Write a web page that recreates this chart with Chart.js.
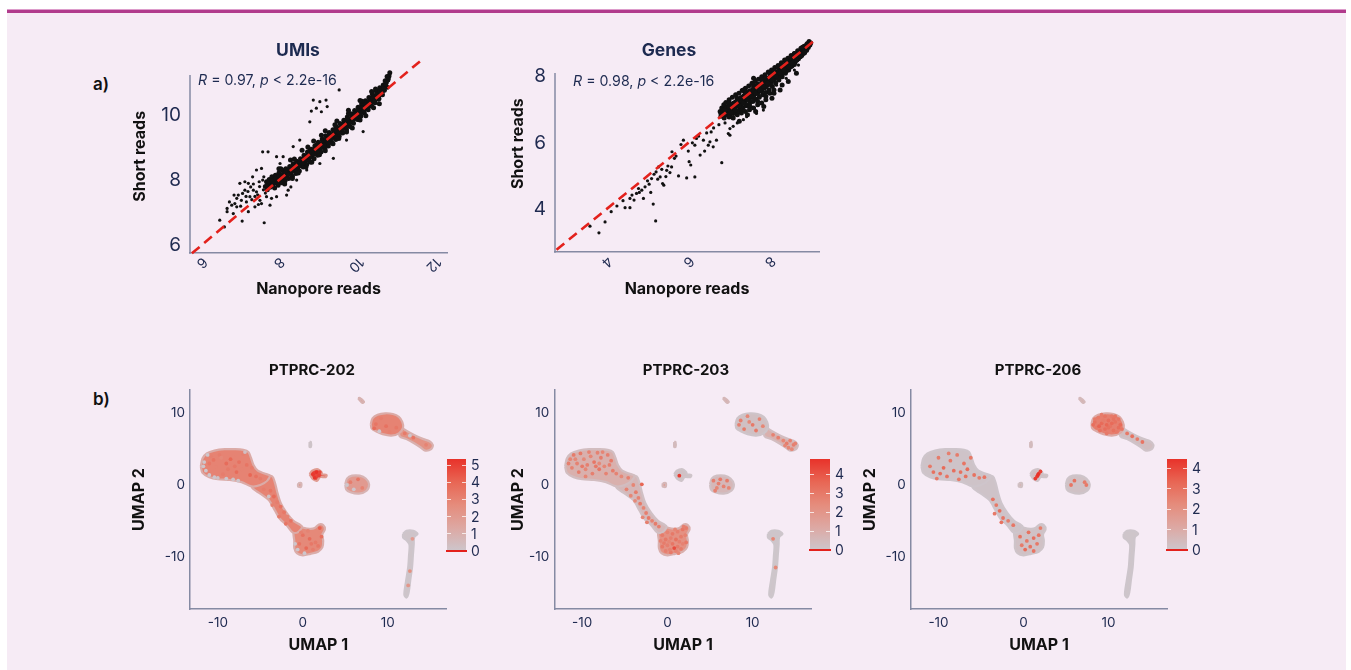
<!DOCTYPE html>
<html><head><meta charset="utf-8">
<script src="https://cdn.jsdelivr.net/npm/chart.js@4.4.0/dist/chart.umd.min.js"></script>
<style>
html,body{margin:0;padding:0;background:#fff;width:1351px;height:670px;overflow:hidden;font-family:Inter,"DejaVu Sans",sans-serif;}
#frame{position:absolute;left:7px;top:9px;width:1339px;height:661px;background:#f6ebf5;}
#topline{position:absolute;left:7px;top:9px;width:1339px;height:3px;background:#b13b8c;border-top:1px solid #dd9ccb;}
canvas{position:absolute;}
.t{position:absolute;white-space:nowrap;transform:translate(-50%,-50%);line-height:1;}
.l{position:absolute;white-space:nowrap;transform:translateY(-50%);line-height:1;}
.cb{position:absolute;}
.tick{position:absolute;height:1px;background:rgba(255,255,255,0.75);width:4px;}
</style></head>
<body>
<div id="frame"></div><div id="topline"></div>
<canvas id="a1" width="350" height="280" style="left:110px;top:30px"></canvas>
<canvas id="a2" width="350" height="296" style="left:480px;top:14px"></canvas>
<canvas id="b1" width="345" height="290" style="left:110px;top:375px"></canvas>
<canvas id="b2" width="345" height="290" style="left:475px;top:375px"></canvas>
<canvas id="b3" width="345" height="290" style="left:830px;top:375px"></canvas>
<div class="t" style="left:298px;top:50px;font-size:17.5px;font-weight:700;color:#1d2a50">UMIs</div>
<div class="t" style="left:669px;top:50px;font-size:17.5px;font-weight:700;color:#1d2a50">Genes</div>
<div class="l" style="left:93px;top:84px;font-size:17px;font-weight:600;color:#111">a)</div>
<div class="l" style="left:93px;top:399px;font-size:17px;font-weight:600;color:#111">b)</div>
<div class="l" style="left:198px;top:80px;font-size:14.2px;color:#1d2a50"><i>R</i> = 0.97, <i>p</i> &lt; 2.2e-16</div>
<div class="l" style="left:573px;top:81px;font-size:14.2px;color:#1d2a50"><i>R</i> = 0.98, <i>p</i> &lt; 2.2e-16</div>
<div class="t" style="left:312px;top:369px;font-size:15px;font-weight:700;color:#111">PTPRC-202</div>
<div class="t" style="left:686px;top:369px;font-size:15px;font-weight:700;color:#111">PTPRC-203</div>
<div class="t" style="left:1038px;top:369px;font-size:15px;font-weight:700;color:#111">PTPRC-206</div>
<script>
// ================= DATA =================
// Panel a) UMIs: log counts, Nanopore (x) vs short reads (y)
const umiXTicks = [6, 8, 10, 12];
const umiYTicks = [6, 8, 10];
const umiYAxisTop = 11.23;
const umiIdentity = [5.75, 11.7];
const umiBand = [
[7.65,7.80],[7.68,7.95],[7.70,7.70],[7.72,7.88],[7.75,8.02],[7.77,7.78],[7.80,7.92],[7.82,8.10],[7.84,7.85],[7.87,8.00],[7.89,7.76],[7.91,8.15],[7.93,7.95],[7.96,8.05],[7.98,7.84],[8.00,8.22],[8.02,8.00],[8.05,8.12],[8.07,7.92],[8.09,8.30],[8.11,8.08],[8.14,8.20],[8.16,7.98],[8.18,8.35],[8.21,8.15],[8.23,8.27],[8.25,8.05],[8.28,8.42],[8.30,8.22],[8.32,8.36],[8.35,8.12],[8.37,8.50],[8.39,8.30],[8.42,8.44],[8.44,8.20],[8.46,8.58],[8.49,8.38],[8.51,8.52],[8.53,8.28],[8.56,8.66],[8.58,8.46],[8.60,8.60],[8.63,8.40],[8.65,8.76],[8.67,8.55],[8.70,8.70],[8.72,8.48],[8.74,8.86],[8.77,8.64],[8.79,8.80],[8.81,8.56],[8.84,8.95],[8.86,8.74],[8.88,8.88],[8.91,8.66],[8.93,9.05],[8.95,8.84],[8.98,8.98],[9.00,8.76],[9.02,9.16],[9.05,8.95],[9.07,9.08],[9.09,8.86],[9.12,9.26],[9.14,9.04],[9.16,9.18],[9.19,8.96],[9.21,9.36],[9.23,9.14],[9.26,9.28],[9.28,9.05],[9.30,9.46],[9.33,9.24],[9.35,9.38],[9.37,9.15],[9.40,9.55],[9.42,9.34],[9.44,9.48],[9.47,9.25],[9.49,9.64],[9.51,9.44],[9.54,9.58],[9.56,9.35],[9.58,9.74],[9.61,9.53],[9.63,9.68],[9.65,9.45],[9.68,9.84],[9.70,9.63],[9.72,9.77],[9.75,9.55],[9.77,9.94],[9.79,9.73],[9.82,9.88],[9.84,9.65],[9.86,10.04],[9.89,9.83],[9.91,9.98],[9.93,9.75],[9.96,10.14],[9.98,9.93],[10.00,10.08],[10.03,9.86],[10.05,10.24],[10.07,10.03],[10.10,10.18],[10.12,9.96],[10.14,10.34],[10.17,10.14],[10.19,10.28],[10.21,10.06],[10.24,10.44],[10.26,10.24],[10.28,10.38],[10.31,10.16],[10.33,10.54],[10.35,10.34],[10.38,10.48],[10.40,10.27],[10.42,10.64],[10.45,10.45],[10.47,10.58],[10.49,10.38],[10.52,10.74],[10.54,10.55],[10.56,10.68],[10.59,10.50],[10.61,10.84],[10.63,10.66],[10.66,10.78],[10.68,10.62],[10.70,10.92],[10.73,10.76],[10.75,10.88],[10.78,11.00],[10.80,10.85],[10.82,11.08],[10.85,11.20],[10.87,11.30],[10.80,11.18],[10.75,11.05],
[7.78,7.86],[7.95,8.00],[8.12,8.16],[8.29,8.32],[8.47,8.48],[8.63,8.64],[8.80,8.90],[8.97,9.08],[9.13,9.22],[9.30,9.38],[9.46,9.56],[9.62,9.72],[9.78,9.88],[9.95,10.05],[10.11,10.22],[10.27,10.40],[10.44,10.56],[10.60,10.72],[10.72,10.86],[8.05,8.35],[8.40,8.65],[8.75,9.02],[9.10,9.38],[9.45,9.70],[9.80,10.05],[10.15,10.42],[10.50,10.80],[8.35,8.05],[8.70,8.40],[9.05,8.78],[9.40,9.12],[9.75,9.48],[10.10,9.85],[10.45,10.22],
[7.70,7.83],[7.74,7.95],[7.79,7.80],[7.83,7.97],[7.88,7.90],[7.92,8.04],[7.97,7.93],[8.01,8.10],[8.06,8.02],[8.10,8.18],[8.15,8.10],[8.19,8.25],[8.24,8.17],[8.28,8.33],[8.33,8.26],[8.38,8.40],[8.43,8.33],[8.48,8.50],[8.52,8.43],[8.57,8.58],[8.62,8.52],[8.66,8.68],[8.71,8.61],[8.76,8.77],[8.80,8.70],[8.85,8.86],[8.90,8.80],[8.94,8.95],[8.99,8.88],[9.04,9.04],[9.08,8.98],[9.13,9.14],[9.18,9.07],[9.22,9.24],[9.27,9.17],[9.32,9.33],[9.36,9.26],[9.41,9.43],[9.46,9.36],[9.50,9.52],[9.55,9.46],[9.60,9.62],[9.64,9.56],[9.69,9.72],[9.74,9.65],[9.78,9.82],[9.83,9.76],[9.88,9.92],[9.92,9.86],[9.97,10.02],[10.02,9.96],[10.06,10.12],[10.11,10.06],[10.16,10.22],[10.20,10.16],[10.25,10.32],[10.30,10.26],[10.34,10.42],[10.39,10.36],[10.44,10.52],[10.48,10.46],[10.53,10.62],[10.58,10.58],[10.62,10.74],[10.67,10.70],[10.71,10.82],[10.76,10.95],[10.83,11.12],
[8.00,8.35],[8.30,8.62],[8.60,8.92],[8.90,9.20],[9.20,9.52],[9.50,9.82],[9.80,10.15],[10.10,10.45],[10.40,10.72],[8.15,7.88],[8.50,8.22],[8.85,8.55],[9.20,8.90],[9.55,9.28],[9.90,9.60],[10.25,9.98],[10.60,10.35]
];
const umiSparse = [
[6.47,6.77],[6.59,6.56],[6.66,7.13],[6.66,7.03],[6.78,7.23],[6.86,7.28],[6.82,6.97],[6.91,7.44],[6.95,7.54],[7.05,6.74],[7.01,7.20],[7.06,7.59],[7.12,7.69],[7.16,7.33],[7.21,7.03],[7.25,7.49],[7.27,7.79],[7.34,7.88],[7.38,7.18],[7.42,7.64],[7.51,7.38],[7.55,7.28],[7.58,8.87],[7.72,8.87],[7.62,6.69],[7.68,7.79],[7.77,7.23],[7.68,7.49],[7.61,8.10],[7.55,8.36],[7.49,7.95],[7.42,8.31],[7.32,8.10],[7.21,7.90],[6.99,7.90],[7.12,7.95],[7.81,7.44],[7.94,7.49],[8.20,7.54],[8.31,7.79],[7.34,7.69],[7.03,7.38],[6.91,7.18],[6.72,7.33],[6.84,7.54],
[8.89,10.46],[8.97,10.21],[9.06,10.41],[9.22,10.46],[9.25,10.26],[9.10,10.10],[8.80,9.79],[8.84,10.12],[9.56,10.77],[8.54,9.23],[8.37,9.03],[8.11,8.72],[7.94,8.72],[8.03,8.51],
[9.75,9.23],[9.41,8.67],[9.06,8.51],[8.89,8.62],[10.18,9.49],[10.35,10.46],[10.57,10.46],[10.01,9.95],[8.72,8.31],[8.46,8.00],[8.24,7.69],
[7.45,7.55],[7.60,7.70],[7.30,7.40],[7.15,7.50],[7.50,7.80],[7.38,7.50],[7.65,7.60],[7.20,7.65],[7.47,7.25],[7.58,8.00]
];

// Panel a) Genes
const geneXTicks = [4, 6, 8];
const geneYTicks = [4, 6, 8];
const geneYAxisTop = 8.11;
const geneIdentity = [2.77, 9.1];
const geneBand = [
[6.78,6.95],[6.80,6.80],[6.82,7.05],[6.85,6.90],[6.87,7.15],[6.88,6.75],[6.90,7.00],[6.92,7.22],[6.94,6.85],[6.96,7.10],[6.98,6.95],[7.00,7.30],[7.02,6.80],[7.04,7.15],[7.06,7.02],[7.08,7.38],[7.10,6.90],[7.12,7.20],[7.14,7.08],[7.16,7.45],[7.18,6.95],[7.20,7.28],[7.22,7.14],[7.24,7.50],[7.26,7.00],[7.28,7.35],[7.30,7.20],[7.32,7.58],[7.34,7.05],[7.36,7.42],[7.38,7.26],[7.40,7.65],[7.42,7.12],[7.44,7.50],[7.46,7.34],[7.48,7.72],[7.50,7.18],[7.52,7.56],[7.54,7.40],[7.56,7.80],[7.58,7.25],[7.60,7.62],[7.62,7.46],[7.64,7.86],[7.66,7.32],[7.68,7.70],[7.70,7.52],[7.72,7.92],[7.74,7.38],[7.76,7.76],[7.78,7.60],[7.80,8.00],[7.82,7.45],[7.84,7.84],[7.86,7.66],[7.88,8.06],[7.90,7.52],[7.92,7.90],[7.94,7.74],[7.96,8.14],[7.98,7.60],[8.00,7.98],[8.02,7.82],[8.04,8.20],[8.06,7.70],[8.08,8.04],[8.10,7.90],[8.12,8.28],[8.14,7.80],[8.16,8.12],[8.18,7.98],[8.20,8.34],[8.22,7.90],[8.24,8.20],[8.26,8.06],[8.28,8.42],[8.30,8.00],[8.32,8.28],[8.34,8.14],[8.36,8.50],[8.38,8.10],[8.40,8.36],[8.42,8.22],[8.44,8.56],[8.46,8.20],[8.48,8.44],[8.50,8.30],[8.52,8.64],[8.54,8.32],[8.56,8.52],[8.58,8.40],[8.60,8.70],[8.62,8.44],[8.64,8.60],[8.66,8.50],[8.68,8.78],[8.70,8.54],[8.72,8.68],[8.74,8.60],[8.76,8.86],[8.78,8.64],[8.80,8.76],[8.82,8.70],[8.84,8.92],[8.86,8.76],[8.88,8.86],[8.90,8.80],[8.92,9.00],[8.94,8.88],[8.96,9.06],[8.98,8.96],
[6.95,7.00],[7.05,7.10],[7.15,7.18],[7.25,7.30],[7.35,7.38],[7.45,7.46],[7.55,7.58],[7.65,7.66],[7.75,7.74],[7.85,7.86],[7.95,7.94],[8.05,8.06],[8.15,8.14],[8.25,8.24],[8.35,8.34],[8.45,8.46],[8.55,8.54],[8.65,8.66],[8.75,8.74],[8.85,8.84],[7.30,7.00],[7.50,7.10],[7.70,7.25],[7.90,7.40],[8.10,7.60],[7.40,6.95],[7.60,7.05],[7.80,7.20],[7.20,6.85],[8.00,7.50],[7.35,7.60],[7.60,7.95],
[6.80,6.88],[6.84,7.00],[6.89,6.92],[6.93,7.06],[6.97,6.98],[7.01,7.12],[7.05,7.03],[7.09,7.18],[7.13,7.10],[7.17,7.24],[7.21,7.16],[7.25,7.30],[7.29,7.22],[7.33,7.36],[7.37,7.28],[7.41,7.42],[7.45,7.34],[7.49,7.48],[7.53,7.40],[7.57,7.54],[7.61,7.47],[7.65,7.60],[7.69,7.54],[7.73,7.66],[7.77,7.62],[7.81,7.72],[7.85,7.70],[7.89,7.80],[7.93,7.78],[7.97,7.88],[8.01,7.86],[8.05,7.96],[8.09,7.95],[8.13,8.04],[8.17,8.04],[8.21,8.12],[8.25,8.13],[8.29,8.20],[8.33,8.22],[8.37,8.28],[8.41,8.31],[8.45,8.37],[8.49,8.40],[8.53,8.46],[8.57,8.50],[8.61,8.55],[8.65,8.59],[8.69,8.64],[8.73,8.69],[8.77,8.74],[8.81,8.79],[8.85,8.83],[8.89,8.88],[8.93,8.93],[8.97,8.99],[9.00,9.02],
[7.10,6.75],[7.30,6.90],[7.50,7.00],[7.70,7.15],[7.90,7.30],[8.10,7.50],[8.30,7.75],[7.25,6.65],[7.45,6.85],[7.65,6.95],[7.85,7.10],[8.05,7.35],[8.25,7.60],[8.45,7.85],[8.65,8.10],
[6.83,6.86],[6.86,6.98],[6.91,6.88],[6.95,7.05],[6.99,7.02],[7.03,6.98],[7.07,7.12],[7.11,7.06],[7.15,7.22],[7.19,7.12],[7.23,7.20],[7.27,7.26],[7.31,7.28],[7.35,7.30],[7.39,7.34],[7.43,7.40],[7.47,7.42],[7.51,7.46],[7.55,7.50],[7.59,7.56],[7.63,7.56],[7.67,7.64],[7.71,7.64],[7.75,7.70],[7.79,7.70],[7.83,7.78],[7.87,7.78],[7.91,7.86],[7.95,7.86],[7.99,7.94],[8.03,7.94],[8.07,8.00],[8.11,8.02],[8.15,8.08],[8.19,8.10],[8.23,8.16],[8.27,8.18],[8.31,8.24],[8.35,8.26],[8.39,8.32],[8.43,8.36],[8.47,8.40],[8.51,8.44],[8.55,8.48],[8.59,8.52],[8.63,8.58],[8.67,8.62],[8.71,8.66],[8.75,8.70],[8.79,8.74],[8.83,8.80],[8.87,8.84],[8.91,8.88],[8.95,8.94],[7.00,7.20],[7.20,7.35],[7.40,7.55],[7.60,7.75],[7.80,7.95],[8.00,8.12],[8.20,8.28],[8.40,8.45],[8.60,8.62],[8.80,8.85],
[6.90,6.98],[7.00,7.09],[7.10,7.17],[7.20,7.29],[7.30,7.37],[7.40,7.49],[7.50,7.57],[7.60,7.69],[7.70,7.77],[7.80,7.89],[7.90,7.97],[8.00,8.09],[8.10,8.17],[8.20,8.29],[8.30,8.37],[8.40,8.49],[8.50,8.57],[8.60,8.69],[8.70,8.77],[8.80,8.89],[8.90,8.97],
[7.00,6.78],[7.10,6.89],[7.20,6.97],[7.30,7.09],[7.40,7.17],[7.50,7.29],[7.60,7.37],[7.70,7.49],[7.80,7.57],[7.90,7.69],[8.00,7.77],[8.10,7.89],[8.20,7.97],[8.30,8.09],[8.40,8.17],[8.50,8.29],[8.60,8.37],
[7.05,6.92],[7.15,7.00],[7.25,7.12],[7.35,7.20],[7.45,7.31],[7.55,7.40],[7.65,7.50],[7.75,7.60],[7.85,7.70],[7.95,7.80],[8.05,7.90],[8.15,8.01],[8.25,8.10],[8.35,8.21],[8.45,8.30],[8.55,8.41],[8.65,8.50],[8.75,8.62],[8.85,8.72]
];
const geneSparse = [
[3.59,3.48],[3.81,3.28],[3.96,3.61],[4.11,3.92],[4.25,4.09],[4.45,4.04],[4.57,4.04],[4.57,4.32],[4.67,4.27],[4.73,4.47],[4.86,4.57],[4.90,4.32],[4.94,4.67],[5.04,4.75],[5.14,4.15],[5.20,3.64],[5.10,4.92],[5.21,5.12],[5.27,5.27],[5.31,4.97],[5.37,4.77],[5.40,4.72],[5.47,5.17],[5.59,5.27],[5.60,5.73],[5.66,5.53],[5.76,5.00],[5.88,6.08],[5.96,4.94],[6.02,5.43],[6.06,5.33],[6.16,5.93],[6.16,4.97],[6.20,6.13],[6.29,5.63],[6.37,6.08],[6.49,5.93],[6.53,6.03],[6.56,6.33],[6.61,5.88],[6.69,6.08],[6.82,5.40],[6.98,6.28],[7.02,6.43],
[4.62,4.42],[4.80,4.50],[5.00,4.85],[5.16,5.05],[5.25,4.90],[5.35,5.20],[5.50,5.30],[5.70,5.60],[5.82,5.95],[6.10,6.00],[6.25,6.20],[6.40,5.75],[6.45,6.30],[6.62,6.45],[6.75,6.55],[6.90,6.60],[5.45,4.98],[5.55,5.10],[6.00,5.75],[4.40,4.25],[4.78,4.62],[5.08,4.50],
[7.84,6.99],[7.67,6.89],[7.43,6.79],[8.16,7.74],[7.55,7.09],[7.02,6.23],[7.20,6.60],[7.35,6.70],[7.10,6.50],[8.40,7.95],[8.60,8.20],[8.70,8.35]
];

// Panel b) UMAP: cluster outlines (UMAP 1, UMAP 2)
const umapTicks = [-10, 0, 10];
const blobOutline = [[-12.0,2.6],[-11.8,3.7],[-11.3,4.4],[-10.4,4.8],[-9.2,5.0],[-8.0,5.0],[-7.0,4.9],[-6.4,4.6],[-6.1,3.8],[-5.8,2.8],[-5.3,2.0],[-4.5,1.6],[-3.9,1.3],[-4.2,0.6],[-5.0,0.0],[-6.0,-0.2],[-7.2,0.4],[-8.6,0.7],[-10.0,0.8],[-11.0,1.1],[-11.8,1.7],[-12.0,2.6]];
const tailOutline = [[-5.6,0.8],[-4.6,1.4],[-3.6,1.2],[-3.3,0.4],[-3.0,-1.0],[-2.6,-2.5],[-1.9,-3.9],[-1.1,-5.0],[-0.1,-5.8],[-0.6,-6.6],[-1.2,-6.6],[-1.9,-5.6],[-2.7,-4.7],[-3.3,-3.5],[-4.0,-2.1],[-5.0,-1.2],[-6.0,-0.3],[-5.6,0.8]];
const lowerOutline = [[-1.0,-5.6],[-0.1,-5.9],[0.8,-6.1],[1.4,-6.0],[1.9,-5.5],[2.4,-5.6],[2.6,-6.2],[2.3,-6.9],[2.4,-7.8],[2.3,-8.7],[1.8,-9.3],[0.9,-9.6],[0.0,-9.8],[-0.7,-9.5],[-1.0,-8.8],[-1.0,-7.8],[-1.1,-6.8],[-1.0,-5.6]];
const trBlobOutline = [[8.0,8.5],[8.2,9.3],[8.8,9.8],[9.7,10.0],[10.6,9.9],[11.3,9.5],[11.7,8.8],[11.8,8.0],[11.3,7.2],[10.4,6.9],[9.4,7.1],[8.6,7.5],[8.1,7.9],[8.0,8.5]];
const trTailOutline = [[11.3,8.3],[11.9,7.8],[12.6,7.3],[13.4,6.8],[14.2,6.4],[14.9,6.1],[15.3,5.6],[15.1,5.0],[14.4,4.8],[13.8,5.3],[13.0,5.9],[12.2,6.4],[11.4,6.8],[11.3,8.3]];
const smallOutline = [[5.0,0.1],[5.2,0.9],[5.8,1.3],[6.7,1.3],[7.4,0.9],[7.8,0.1],[7.5,-0.8],[6.6,-1.2],[5.6,-1.0],[5.1,-0.6],[5.0,0.1]];
const redOutline = [[0.8,1.5],[1.1,2.0],[1.8,2.2],[2.2,1.8],[2.3,1.5],[2.8,1.4],[2.7,1.1],[2.0,1.1],[1.7,0.6],[1.2,0.8],[0.8,1.5]];
const stemOutline = [[11.8,-6.8],[12.2,-6.4],[13.0,-6.4],[13.5,-6.8],[13.1,-7.3],[13.05,-8.3],[12.95,-9.8],[12.85,-11.5],[12.65,-13.2],[12.45,-15.0],[12.2,-15.7],[11.95,-15.3],[12.15,-13.4],[12.4,-11.5],[12.5,-9.8],[12.55,-8.3],[12.2,-7.7],[11.8,-7.3],[11.8,-6.8]];
const tinyAOutline = [[0.8,6.0],[0.95,6.0],[0.95,5.3],[0.8,5.3],[0.8,6.0]];
const tinyBOutline = [[-0.55,0.25],[-0.2,0.3],[-0.2,-0.25],[-0.55,-0.2],[-0.55,0.25]];
const tinyCOutline = [[6.5,12.1],[6.7,12.15],[7.2,11.6],[7.0,11.45],[6.5,12.1]];

// mean expression per cluster (same order as the outlines list below)
const b1ClusterMean = [3.0, 3.0, 2.8, 3.0, 2.4, 2.0, 4.8, 0.1, 0.3, 1.8, 2.2];
const b2ClusterMean = [0.9, 0.6, 2.2, 0.25, 0.9, 0.6, 0.2, 0.05, 1.2, 1.5, 1.5];
const b3ClusterMean = [0.1, 0.1, 0.2, 2.6, 0.3, 0.2, 0.3, 0.05, 1.0, 0.6, 1.2];
const b1Max = 5.37, b2Max = 4.8, b3Max = 4.46;
const b1Legend = [0, 1, 2, 3, 4, 5];
const b2Legend = [0, 1, 2, 3, 4];
const b3Legend = [0, 1, 2, 3, 4];

// single cells [UMAP1, UMAP2, expression]
const b1Cells = [
[-10.5,3.5,3.5],[-9.8,4.2,3.2],[-9.0,3.0,3.8],[-8.2,4.0,3.0],[-7.5,3.2,3.6],[-8.8,2.2,3.3],[-10.2,2.5,3.0],[-11.0,3.0,3.4],[-7.0,4.3,3.1],[-6.6,2.8,3.5],[-7.8,1.8,3.8],[-9.4,1.5,3.2],[-8.5,3.6,3.9],[-6.2,1.4,4.0],[-5.5,1.2,3.6],[-5.0,0.9,3.3],[-4.5,0.8,3.0],[-9.6,3.8,2.8],[-10.8,4.0,3.1],[-8.0,2.6,3.4],[-7.2,2.2,3.0],[-6.0,2.4,3.2],
[-11.4,2.0,0],[-11.6,3.2,0],[-11.0,1.4,0],[-10.4,1.1,0],[-9.0,0.9,0],[-11.2,4.2,0],[-7.6,0.6,0],[-11.7,2.6,0],[-10.0,1.0,0.2],[-8.2,0.8,0.2],[-6.8,4.6,0.3],
[-3.8,-0.8,3.5],[-3.4,-1.6,3.8],[-3.0,-2.4,3.2],[-2.6,-3.0,3.6],[-2.2,-3.8,3.4],[-1.8,-4.4,3.0],[-1.4,-5.0,3.6],[-3.6,-2.8,3.1],[-2.8,-4.4,3.3],[-2.0,-5.4,3.5],[-4.6,-0.6,3.2],[-4.0,-1.6,0.2],
[0.0,-7.0,3.6],[0.8,-7.5,3.8],[1.5,-8.0,3.3],[-0.4,-8.2,3.5],[0.4,-8.8,3.9],[1.2,-9.0,3.2],[2.0,-6.0,4.2],[2.2,-7.2,3.7],[1.8,-8.5,3.4],[-0.6,-9.0,0],[-0.9,-8.2,0],[0.2,-9.5,0],[-0.2,-6.6,3.1],[0.6,-6.4,3.0],[1.0,-8.2,3.4],
[8.6,8.5,3.5],[9.2,9.3,3.2],[9.8,8.2,3.6],[10.5,9.4,3.0],[11.0,8.0,3.4],[8.4,7.9,3.8],[10.2,7.4,3.1],[12.0,7.2,3.3],[13.0,6.6,3.5],[14.5,5.6,3.0],[12.6,6.9,0],[9.0,7.5,0],
[5.6,0.4,3.2],[6.5,0.8,3.5],[7.0,-0.4,3.0],[6.0,-0.6,0],[5.2,0.0,0],
[1.2,1.5,5.2],[1.6,1.8,5.4],[1.9,1.3,5.0],[1.4,1.0,5.3],[2.0,1.8,4.8],
[12.6,-12.0,2.5],[12.4,-14.0,2.2],[12.9,-7.5,2.0]
];
const b2Cells = [
[-11.4,3.6,2.6],[-11.0,4.2,2.9],[-10.6,3.0,2.7],[-10.2,4.4,3.0],[-9.8,3.6,2.5],[-9.4,2.8,2.8],[-9.0,4.0,2.6],[-8.6,3.2,3.1],[-8.2,4.5,2.7],[-7.8,3.8,2.9],[-7.4,2.6,2.6],[-7.0,4.2,2.8],[-6.6,3.4,3.0],[-11.2,2.4,2.7],[-10.4,1.8,2.9],[-9.6,2.2,2.6],[-8.8,1.6,2.8],[-8.0,2.2,3.1],[-7.2,1.6,2.7],[-6.4,2.0,2.9],[-10.8,3.6,2.5],[-9.2,4.6,2.7],[-8.4,2.6,3.0],[-7.6,4.6,2.6],[-6.8,2.8,2.8],[-10.0,2.6,3.0],[-11.6,3.0,2.8],[-8.0,3.0,2.5],[-9.6,1.2,2.6],[-6.0,1.6,2.7],[-5.4,1.2,2.5],[-4.6,1.0,2.8],
[-4.0,0.0,2.6],[-3.7,-1.0,2.9],[-3.4,-1.8,2.7],[-3.2,-2.6,3.0],[-2.8,-3.2,2.6],[-2.5,-3.9,2.8],[-2.2,-4.6,3.0],[-1.8,-5.0,2.7],[-1.4,-5.4,2.9],[-2.9,-4.5,2.6],[-2.4,-5.2,2.8],[-3.8,-2.2,2.5],[-4.3,-1.5,2.6],[-4.8,-0.6,2.7],[-1.0,-5.8,2.8],[-3.0,0.1,3.6],
[-0.6,-7.0,2.9],[0.0,-6.6,2.7],[0.6,-6.8,3.0],[1.2,-6.5,2.8],[1.8,-6.2,3.1],[2.2,-6.0,2.9],[-0.8,-7.8,2.7],[-0.2,-7.6,3.0],[0.4,-7.4,2.8],[1.0,-7.6,3.2],[1.6,-7.2,2.9],[2.1,-7.0,2.7],[-0.6,-8.6,3.0],[0.0,-8.4,2.8],[0.6,-8.2,3.1],[1.2,-8.6,2.9],[1.8,-8.2,2.7],[2.2,-8.0,3.0],[-0.2,-9.2,2.8],[0.4,-9.4,3.0],[1.0,-9.2,2.7],[1.6,-8.9,2.9],[0.8,-8.8,4.2],[0.2,-7.9,2.6],[1.4,-7.9,2.8],[-0.4,-8.1,2.9],[0.9,-6.2,2.6],[1.9,-5.8,2.8],[0.3,-9.0,2.7],[1.3,-9.5,2.6],
[8.6,9.0,2.8],[9.4,9.6,2.6],[10.0,8.4,3.0],[10.8,9.2,2.7],[9.0,7.8,2.9],[11.2,8.2,2.6],[8.4,8.4,2.8],[10.4,7.6,3.0],[9.6,8.8,2.5],
[12.4,7.0,2.7],[13.0,6.6,2.8],[13.6,6.2,2.6],[14.0,5.8,2.9],[14.4,6.2,2.7],[14.8,5.6,2.8],[14.2,5.2,2.6],[14.6,5.0,2.5],[15.0,5.8,2.7],[13.8,5.5,2.6],
[5.4,0.6,2.8],[5.8,-0.4,2.6],[6.2,0.8,3.0],[6.6,-0.2,2.7],[7.0,0.6,2.9],[7.2,-0.4,2.6],[6.0,0.2,2.8],[5.6,-0.8,2.7],
[1.4,1.3,4.6],
[12.7,-11.5,2.5],[12.4,-7.5,2.6]
];
const b3Cells = [
[-11.0,2.6,2.8],[-10.6,1.8,3.0],[-10.0,3.8,2.7],[-9.4,2.4,3.2],[-9.0,1.2,2.9],[-8.6,3.4,2.8],[-8.2,2.0,3.1],[-7.8,4.2,2.7],[-7.4,1.8,3.0],[-7.0,3.0,2.9],[-6.6,2.2,3.2],[-6.2,3.8,2.8],[-5.8,1.4,3.0],[-5.2,1.0,2.7],[-4.6,1.1,2.9],[-10.2,0.9,2.8],[-9.8,1.6,3.1],[-8.8,4.4,2.6],[-6.8,1.2,3.0],[-7.6,0.8,2.8],
[-3.6,-2.0,3.0],[-3.2,-2.8,2.8],[-2.8,-3.6,3.1],[-2.4,-4.6,2.9],[-1.8,-5.0,2.7],[-3.4,-4.0,2.8],[-2.6,-5.2,3.0],[-1.2,-5.6,2.9],
[-0.4,-7.2,3.0],[0.4,-7.8,2.8],[1.2,-7.4,3.1],[1.8,-7.0,2.9],[-0.2,-8.4,2.7],[0.8,-8.6,3.0],[1.6,-8.2,2.8],[0.2,-9.0,3.2],[1.2,-9.2,2.9],[2.0,-6.0,2.7],[0.6,-6.6,3.0],
[8.4,8.8,3.0],[8.8,9.4,2.8],[9.2,8.6,3.2],[9.6,9.6,2.9],[10.0,9.0,3.1],[10.4,9.6,2.8],[10.8,8.8,3.0],[11.2,9.2,2.9],[11.4,8.4,3.2],[8.6,8.0,2.8],[9.0,7.6,3.0],[9.6,7.8,3.1],[10.2,8.2,2.9],[10.6,7.6,3.0],[11.0,7.4,2.8],[8.2,8.4,3.1],[9.4,9.0,2.7],[10.4,8.6,3.2],[9.8,7.2,2.8],[11.6,7.8,2.9],[8.9,8.2,3.4],[10.0,8.0,3.0],[9.2,9.8,2.7],[10.8,9.6,2.9],[11.2,8.0,3.1],[8.4,9.2,2.8],[9.8,8.4,3.3],[10.6,9.2,3.0],[12.2,7.2,2.8],[12.8,6.8,3.0],[13.4,6.4,2.7],[14.0,6.0,2.9],
[5.6,0.0,2.9],[6.0,0.6,3.0],[7.4,0.0,2.8],[7.2,0.4,2.7],
[1.6,1.2,4.2],[1.8,1.6,4.4],[2.0,1.9,4.1],[1.4,0.9,4.3],[1.7,1.4,4.5]
];

// ================= RENDERING =================
const FONT = 'Inter, "DejaVu Sans", sans-serif';
const NAVY = '#1f2a50';
const AXIS = '#858aa3';
Chart.defaults.font.family = FONT;

const rampStops = [[0,[205,198,204]],[0.25,[221,168,163]],[0.5,[229,140,124]],[0.75,[232,102,84]],[1,[232,50,42]]];
function colorFor(t) {
  t = Math.max(0, Math.min(1, t));
  for (let i = 1; i < rampStops.length; i++) {
    if (t <= rampStops[i][0]) {
      const [t0, c0] = rampStops[i-1], [t1, c1] = rampStops[i];
      const f = (t - t0) / (t1 - t0);
      return 'rgb(' + c0.map((c, k) => Math.round(c + (c1[k] - c) * f)).join(',') + ')';
    }
  }
  return 'rgb(232,50,42)';
}

// rotated x tick labels + partial y axis line
const rotX = {
  id: 'rotX',
  afterDraw(chart, args, opts) {
    if (!opts || !opts.labels) return;
    const ctx = chart.ctx, xs = chart.scales.x, ys = chart.scales.y;
    ctx.save();
    ctx.strokeStyle = AXIS; ctx.lineWidth = 1.5;
    ctx.beginPath();
    ctx.moveTo(xs.left, ys.bottom + 0.75);
    ctx.lineTo(xs.left, ys.getPixelForValue(opts.yAxisTop));
    ctx.stroke();
    ctx.font = opts.size + 'px ' + FONT;
    ctx.fillStyle = NAVY; ctx.textAlign = 'center'; ctx.textBaseline = 'middle';
    opts.labels.forEach(v => {
      const txt = String(v);
      const w = ctx.measureText(txt).width;
      const ext = (w + opts.size * 0.72) * 0.7071 / 2;
      ctx.save();
      ctx.translate(xs.getPixelForValue(v), xs.top + 3 + ext);
      ctx.rotate(Math.PI * 3 / 4);
      ctx.fillText(txt, 0, 0);
      ctx.restore();
    });
    ctx.restore();
  }
};

function axisTitle(text, pad) {
  return {display: true, text, color: '#111', font: {size: 16, weight: 'bold', family: FONT}, padding: pad};
}

function scatterPanel(id, c) {
  new Chart(document.getElementById(id), {
    type: 'scatter',
    data: {datasets: [
      {type: 'line', data: c.identity.map(v => ({x: v, y: v})), borderColor: '#e3211c', borderWidth: 2.6, borderDash: [10, 6], pointRadius: 0, fill: false, clip: false, order: 0},
      {data: c.band.map(p => ({x: p[0], y: p[1]})), backgroundColor: '#111', borderWidth: 0, pointRadius: 2.5, clip: false, order: 1},
      {data: c.sparse.map(p => ({x: p[0], y: p[1]})), backgroundColor: '#111', borderWidth: 0, pointRadius: 1.6, clip: false, order: 1}
    ]},
    options: {
      responsive: false, animation: false, events: [],
      layout: {padding: {left: 0, top: c.padTop, right: c.padRight, bottom: 0}},
      plugins: {legend: {display: false}, tooltip: {enabled: false}, rotX: {labels: c.xTicks, size: 14, yAxisTop: c.yAxisTop}},
      scales: {
        x: {type: 'linear', min: c.xMin, max: c.xMax,
          afterBuildTicks: s => { s.ticks = c.xTicks.map(v => ({value: v})); },
          afterFit: s => { s.height = c.xh; },
          grid: {display: false, drawTicks: false}, border: {color: AXIS, width: 1.5},
          ticks: {display: false},
          title: axisTitle('Nanopore reads', {top: 0, bottom: c.xTitlePad})},
        y: {type: 'linear', min: c.yMin, max: c.yMax,
          afterBuildTicks: s => { s.ticks = c.yTicks.map(v => ({value: v})); },
          afterFit: s => { s.width = c.yw; },
          grid: {display: false, drawTicks: false}, border: {display: false},
          ticks: {color: NAVY, font: {size: 19, family: FONT}, padding: 9},
          title: axisTitle('Short reads', {top: c.yTitlePad, bottom: 0})}
      }
    },
    plugins: [rotX]
  });
}

const outlines = [blobOutline, tailOutline, lowerOutline, trBlobOutline, trTailOutline, smallOutline, redOutline, stemOutline, tinyAOutline, tinyBOutline, tinyCOutline];

function umapPanel(id, c) {
  const polys = outlines.map((o, i) => ({
    type: 'line', data: o.map(p => ({x: p[0], y: p[1]})), fill: 'shape',
    backgroundColor: colorFor(c.means[i] / c.max), borderColor: colorFor(0.4 * c.means[i] / c.max),
    borderWidth: 2.2, pointRadius: 0, tension: 0.3, order: 1
  }));
  const cells = {data: c.cells.map(p => ({x: p[0], y: p[1], v: p[2]})),
    backgroundColor: ctx => colorFor((ctx.raw ? ctx.raw.v : 0) / c.max),
    borderWidth: 0, pointRadius: 1.9, order: 0};
  new Chart(document.getElementById(id), {
    type: 'scatter',
    data: {datasets: [cells].concat(polys)},
    options: {
      responsive: false, animation: false, events: [],
      layout: {padding: {left: 0, top: 15, right: c.padRight, bottom: 0}},
      plugins: {legend: {display: false}, tooltip: {enabled: false}},
      scales: {
        x: {type: 'linear', min: -13.27, max: 16.93,
          afterBuildTicks: s => { s.ticks = umapTicks.map(v => ({value: v})); },
          afterFit: s => { s.height = 56; },
          grid: {display: false, drawTicks: false}, border: {color: AXIS, width: 1.5},
          ticks: {color: NAVY, font: {size: 13.5, family: FONT}, padding: 6},
          title: axisTitle('UMAP 1', {top: 0, bottom: 10.4})},
        y: {type: 'linear', min: -17.29, max: 13.25,
          afterBuildTicks: s => { s.ticks = umapTicks.map(v => ({value: v})); },
          afterFit: s => { s.width = c.yw; },
          grid: {display: false, drawTicks: false}, border: {color: AXIS, width: 1.5},
          ticks: {color: NAVY, font: {size: 13.5, family: FONT}, padding: 5},
          title: axisTitle('UMAP 2', {top: c.yTitlePad, bottom: 0})}
      }
    }
  });
}

function colorbar(c) {
  const top = c.zero - c.max * c.unit;
  const bar = document.createElement('div');
  bar.className = 'cb';
  const stops = rampStops.map(s => 'rgb(' + s[1].join(',') + ') ' + (s[0] * 100) + '%').join(',');
  bar.style.cssText = 'left:' + c.left + 'px;top:' + top + 'px;width:' + c.width + 'px;height:' + (c.zero - top) + 'px;background:linear-gradient(to top,' + stops + ');';
  document.body.appendChild(bar);
  c.labels.forEach(v => {
    const y = c.zero - v * c.unit;
    if (v > 0) {
      ['0', (c.width - 4) + ''].forEach(dx => {
        const t = document.createElement('div');
        t.className = 'tick';
        t.style.left = (c.left + +dx) + 'px'; t.style.top = (y - 0.5) + 'px';
        document.body.appendChild(t);
      });
    }
    const lab = document.createElement('div');
    lab.className = 'l';
    lab.style.cssText = 'left:' + (c.left + c.width + 5) + 'px;top:' + y + 'px;font-size:14px;color:' + NAVY;
    lab.textContent = v;
    document.body.appendChild(lab);
  });
  const z = document.createElement('div');
  z.className = 'cb';
  z.style.cssText = 'left:' + (c.left - 1) + 'px;top:' + (c.zero - 1) + 'px;width:' + (c.width + 2) + 'px;height:2px;background:#e3211c';
  document.body.appendChild(z);
}

scatterPanel('a1', {band: umiBand, sparse: umiSparse, identity: umiIdentity, xTicks: umiXTicks, yTicks: umiYTicks, yAxisTop: umiYAxisTop,
  xMin: 5.70, xMax: 12.35, yMin: 5.76, yMax: 11.70, padTop: 29.7, padRight: 13, yw: 80, xh: 57, yTitlePad: 20.4, xTitlePad: 11.4});
scatterPanel('a2', {band: geneBand, sparse: geneSparse, identity: geneIdentity, xTicks: geneXTicks, yTicks: geneYTicks, yAxisTop: geneYAxisTop,
  xMin: 2.733, xMax: 9.203, yMin: 2.70, yMax: 9.25, padTop: 21.3, padRight: 11, yw: 75, xh: 58, yTitlePad: 28.7, xTitlePad: 11.1});

umapPanel('b1', {cells: b1Cells, means: b1ClusterMean, max: b1Max, padRight: 8.3, yw: 80, yTitlePad: 19.4});
umapPanel('b2', {cells: b2Cells, means: b2ClusterMean, max: b2Max, padRight: 8.3, yw: 79.3, yTitlePad: 33.7});
umapPanel('b3', {cells: b3Cells, means: b3ClusterMean, max: b3Max, padRight: 7.7, yw: 80.7, yTitlePad: 30.4});

colorbar({left: 447, width: 19, zero: 551, unit: 17.2, max: b1Max, labels: b1Legend});
colorbar({left: 810, width: 20, zero: 550, unit: 19, max: b2Max, labels: b2Legend});
colorbar({left: 1167, width: 20, zero: 550, unit: 20.4, max: b3Max, labels: b3Legend});
</script>
</body></html>
